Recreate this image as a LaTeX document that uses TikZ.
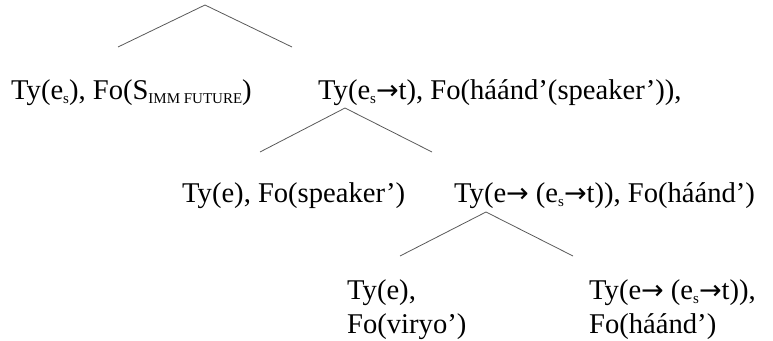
\documentclass[tikz,border=0pt]{standalone}
\usepackage{fontspec}
\setmainfont{Liberation Serif}
\newfontfamily\arrowfont{DejaVu Sans}
% tiefgestellter Index und Pfeil
\newcommand{\sub}[1]{\raisebox{-0.15em}{\fontsize{15}{15}\selectfont #1}}
\newcommand{\arr}{{\arrowfont\fontsize{27}{27}\selectfont →}}
\begin{document}
\begin{tikzpicture}[x=1pt,y=-1pt,
		txt/.style={anchor=base west,inner sep=0pt,font=\fontsize{28.6}{34}\selectfont,align=left},
		branch/.style={draw=black!65,line width=0.8pt}
		]
	\useasboundingbox (0,0) rectangle (773,340);
	
	% Knoten der obersten Ebene
	% ----------------------
	\node[txt] (situation) at (11,99) {Ty(e\sub{s}), Fo(S\sub{IMM FUTURE})};
	\node[txt] (predicate) at (318,99) {Ty(e\sub{s}\arr t), Fo(háánd’(speaker’)),};
	
	% zweite Ebene
	% ----------------------
	\node[txt] (subject) at (182,202) {Ty(e), Fo(speaker’)};
	\node[txt] (verb) at (454,202) {Ty(e\arr{} (e\sub{s}\arr t)), Fo(háánd’)};
	
	% dritte Ebene (Anker an der zweiten Zeile)
	% ----------------------
	\node[txt] (object) at (347,333) {Ty(e),\\Fo(viryo’)};
	\node[txt] (core) at (589,333) {Ty(e\arr{} (e\sub{s}\arr t)),\\Fo(háánd’)};
	
	% Verzweigungen
	\coordinate (apexA) at (205,5);
	\coordinate (apexB) at (345,108);
	\coordinate (apexC) at (486,212);
	\draw[branch] (118,47) -- (apexA) -- (292,47);
	\draw[branch] (260,152) -- (apexB) -- (432,152);
	\draw[branch] (400,256) -- (apexC) -- (573,256);
	
\end{tikzpicture}
\end{document}
